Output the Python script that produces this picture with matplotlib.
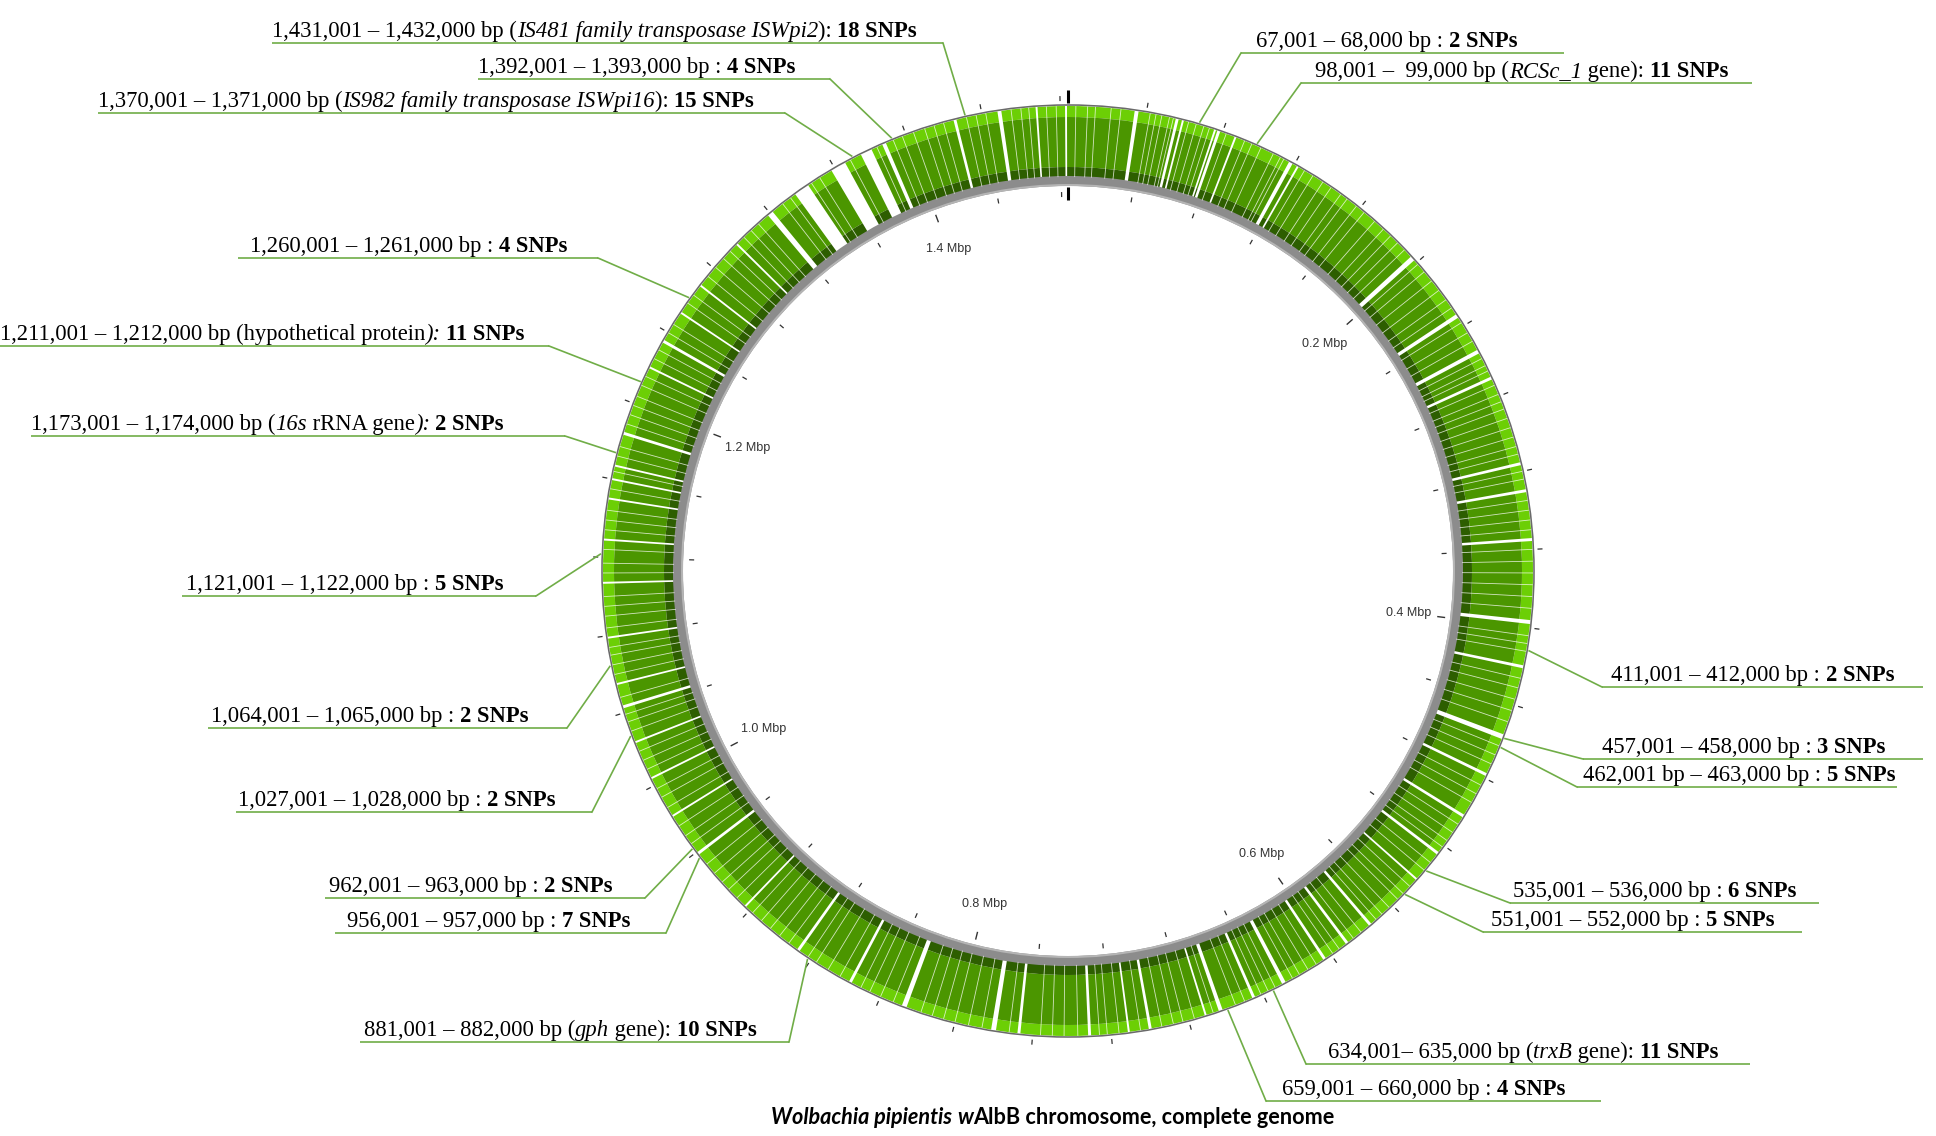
import numpy as np
import matplotlib
matplotlib.use("Agg")
import matplotlib.pyplot as plt
from matplotlib.patches import Wedge
from matplotlib.collections import LineCollection
from matplotlib.font_manager import FontProperties

W, H = 1936, 1136
GENOME_BP = 1484007

# annotated 1 kb windows
region_start = [1431001, 1392001, 1370001, 1260001, 1211001, 1173001, 1121001,
                1064001, 1027001, 962001, 956001, 881001,
                67001, 98001, 411001, 457001, 462001, 535001, 551001, 634001, 659001]
snp_counts = [18, 4, 15, 4, 11, 2, 5, 2, 2, 2, 7, 10,
              2, 11, 2, 3, 5, 6, 5, 11, 4]
label_text = [
    [("1,431,001 – 1,432,000 bp (", "n"), ("IS481 family transposase ISWpi2", "i"), ("): ", "n")],
    [("1,392,001 – 1,393,000 bp : ", "n")],
    [("1,370,001 – 1,371,000 bp (", "n"), ("IS982 family transposase ISWpi16", "i"), ("): ", "n")],
    [("1,260,001 – 1,261,000 bp : ", "n")],
    [("1,211,001 – 1,212,000 bp (hypothetical protein", "n"), ("): ", "i")],
    [("1,173,001 – 1,174,000 bp (", "n"), ("16s", "i"), (" rRNA gene", "n"), ("): ", "i")],
    [("1,121,001 – 1,122,000 bp : ", "n")],
    [("1,064,001 – 1,065,000 bp : ", "n")],
    [("1,027,001 – 1,028,000 bp : ", "n")],
    [("962,001 – 963,000 bp : ", "n")],
    [("956,001 – 957,000 bp : ", "n")],
    [("881,001 – 882,000 bp (", "n"), ("gph", "i"), (" gene): ", "n")],
    [("67,001 – 68,000 bp : ", "n")],
    [("98,001 –  99,000 bp (", "n"), ("RCSc_1", "i"), (" gene): ", "n")],
    [("411,001 – 412,000 bp : ", "n")],
    [("457,001 – 458,000 bp : ", "n")],
    [("462,001 bp – 463,000 bp : ", "n")],
    [("535,001 – 536,000 bp : ", "n")],
    [("551,001 – 552,000 bp : ", "n")],
    [("634,001– 635,000 bp (", "n"), ("trxB", "i"), (" gene): ", "n")],
    [("659,001 – 660,000 bp : ", "n")],
]

# wide white gaps between features (kbp centre, kbp width)
gap_kbp = [35, 56, 59, 76, 78, 87, 118, 122, 197, 234, 255, 270, 316, 330, 355,
           397, 420, 457, 478, 502, 525, 542, 575, 590, 604, 628, 645, 663, 671,
           700, 711, 731, 767, 780, 827, 857, 888, 923, 959, 982, 1004, 1024,
           1043, 1055, 1079, 1107, 1129, 1150, 1160, 1167, 1184, 1220, 1235,
           1252, 1269, 1297, 1320, 1340, 1362, 1378, 1388, 1426, 1449, 1468, 1483]
gap_width = [2.0, 1.5, 1.0, 1.0, 1.5, 1.0, 2.0, 1.0, 2.5, 2.0, 2.0, 1.5, 1.5, 1.5, 1.5,
             2.0, 1.5, 2.5, 1.5, 1.5, 1.5, 1.0, 1.5, 1.5, 1.5, 2.0, 1.5, 2.0, 1.0,
             1.5, 1.0, 1.5, 1.5, 2.5, 2.5, 1.5, 1.5, 1.0, 1.5, 1.0, 1.0, 1.0,
             1.5, 1.0, 1.0, 1.0, 1.0, 1.0, 1.0, 1.0, 1.5, 1.0, 1.5,
             1.0, 1.0, 1.0, 3.0, 8.0, 8.0, 6.0, 2.0, 1.5, 2.0, 1.0, 1.0]
# thin white lines
thin_kbp = [4, 10, 14, 22, 27, 42, 45, 48, 52, 54, 62, 66, 70, 73, 82, 92, 96, 101, 108, 112, 114,
            126, 131, 137, 142, 148, 152, 158, 163, 170, 176, 181, 186, 191, 201, 206, 212, 218, 224, 229, 238,
            244, 249, 259, 263, 266, 274, 279, 283, 287, 292, 297, 302, 307, 311, 320, 324, 335, 340, 345,
            350, 360, 366, 372, 378, 384, 390,
            404, 408, 412, 426, 431, 437, 443, 449, 462, 467, 472, 484, 489, 494, 507, 512, 517, 521,
            531, 536, 547, 552, 556,
            562, 567, 571, 581, 586, 595, 599, 609, 614, 619, 623, 633, 637, 641, 650, 655, 667, 677,
            683, 688, 694, 705, 716, 722, 726, 737, 744, 750, 756,
            772, 786, 793, 800, 806, 812, 818, 833, 840, 846, 851, 863, 870, 877, 882, 894,
            900, 906, 912, 918, 929, 935, 940, 946, 952, 965, 970, 976, 987, 993, 998, 1009, 1014,
            1019, 1030, 1035, 1039, 1048, 1060, 1065, 1070, 1074, 1084, 1090, 1095, 1100, 1112, 1117,
            1124, 1134, 1139, 1144, 1155, 1164, 1172, 1177, 1189, 1194, 1199, 1204, 1210, 1215, 1225,
            1230, 1240, 1245, 1258, 1263, 1275, 1281, 1287, 1292, 1302, 1307, 1312,
            1328, 1333, 1346, 1351, 1369, 1384, 1393, 1398, 1404, 1410, 1415, 1420, 1432, 1437,
            1442, 1455, 1460, 1464, 1473, 1478]

tick_step_kbp = 40
tick_labels = ["0.2 Mbp", "0.4 Mbp", "0.6 Mbp", "0.8 Mbp", "1.0 Mbp", "1.2 Mbp", "1.4 Mbp"]
tick_label_kbp = [200, 400, 600, 800, 1000, 1200, 1400]

# label layout (image pixels)
side = ["L"] * 12 + ["R"] * 9
text_x = [272, 478, 98, 250, 0, 31, 186, 211, 238, 329, 347, 364,
          1256, 1315, 1611, 1602, 1583, 1513, 1491, 1328, 1282]
under_y = [43, 79, 113, 258, 346, 436, 596, 728, 812, 898, 933, 1042,
           53, 83, 687, 759, 787, 903, 932, 1064, 1101]
under_x0 = [272, 478, 98, 238, 0, 31, 182, 208, 236, 325, 335, 360,
            1241, 1301, 1602, 1583, 1577, 1510, 1483, 1306, 1266]
under_x1 = [943, 830, 785, 598, 549, 565, 536, 567, 592, 645, 666, 789,
            1564, 1752, 1923, 1923, 1897, 1819, 1802, 1750, 1601]

CX, CY = 1068, H - 571
R_OUT = 466
LINE_GREEN = "#70ad47"


def ang(bp):
    return np.deg2rad(90 - bp / GENOME_BP * 360)


def polar(bp, r):
    a = ang(bp)
    return CX + r * np.cos(a), CY + r * np.sin(a)


fig = plt.figure(figsize=(W / 100, H / 100), dpi=100)
ax = fig.add_axes([0, 0, 1, 1])
ax.set_xlim(0, W)
ax.set_ylim(0, H)
ax.axis("off")
renderer = fig.canvas.get_renderer()

# feature bands
bands = [(465, 454, "#6ccf05"), (454, 404, "#4b9600"), (404, 394, "#2d5e00")]
for r1, r0, col in bands:
    ax.add_patch(Wedge((CX, CY), r1, 0, 360, width=r1 - r0, facecolor=col, edgecolor="none"))

for c, w in zip(gap_kbp, gap_width):
    t1 = 90 - (c + w / 2) * 1000 / GENOME_BP * 360
    t2 = 90 - (c - w / 2) * 1000 / GENOME_BP * 360
    ax.add_patch(Wedge((CX, CY), 466, t1, t2, width=72, facecolor="white", edgecolor="none"))

segs = [[polar(k * 1000, 394), polar(k * 1000, 465)] for k in thin_kbp]
ax.add_collection(LineCollection(segs, colors="white", linewidths=0.6, alpha=0.75))

# outer circle and grey backbone
ax.add_patch(Wedge((CX, CY), R_OUT + 0.8, 0, 360, width=1.6, facecolor="#6a6a6a", edgecolor="none"))
ax.add_patch(Wedge((CX, CY), 395, 0, 360, width=10, facecolor="#8c8c8c", edgecolor="none"))
ax.add_patch(Wedge((CX, CY), 387, 0, 360, width=2, facecolor="#b5b5b5", edgecolor="none"))

# ticks
tick_segs, major_segs = [], []
for k in range(tick_step_kbp, 1484, tick_step_kbp):
    bp = k * 1000
    tick_segs.append([polar(bp, 470), polar(bp, 475)])
    if k % 200 == 0:
        major_segs.append([polar(bp, 372), polar(bp, 380)])
    else:
        tick_segs.append([polar(bp, 374), polar(bp, 379)])
ax.add_collection(LineCollection(tick_segs, colors="#333333", linewidths=0.9))
ax.add_collection(LineCollection(major_segs, colors="#333333", linewidths=1.0))
ax.add_collection(LineCollection([[polar(0, 468), polar(0, 481)], [polar(0, 371), polar(0, 384)]],
                                 colors="black", linewidths=2.2))
for lab, k in zip(tick_labels, tick_label_kbp):
    x, y = polar(k * 1000, 343)
    ax.text(x, y, lab, ha="center", va="center", fontsize=9, family="Liberation Sans", color="#333333")


def text_width(s, prop):
    w1, _, _ = renderer.get_text_width_height_descent("|" + s + "|", prop, ismath=False)
    w0, _, _ = renderer.get_text_width_height_descent("||", prop, ismath=False)
    return w1 - w0


STYLES = {"n": ("normal", "normal"), "i": ("italic", "normal"),
          "b": ("normal", "bold"), "bi": ("italic", "bold")}


def draw_rich(x, y, parts, size, family, color="black"):
    for s, st in parts:
        style, weight = STYLES[st]
        prop = FontProperties(family=family, style=style, weight=weight, size=size)
        ax.text(x, y, s, fontproperties=prop, ha="left", va="baseline", color=color)
        x += text_width(s, prop)


# annotation labels with leader lines
for i in range(len(region_start)):
    uy = H - under_y[i]
    mid = region_start[i] + 500
    px, py = polar(mid, 468)
    jx = under_x1[i] if side[i] == "L" else under_x0[i]
    ax.plot([under_x0[i], under_x1[i]], [uy, uy], color=LINE_GREEN, lw=1.2, solid_capstyle="butt")
    ax.plot([jx, px], [uy, py], color=LINE_GREEN, lw=1.2)
    parts = label_text[i] + [(f"{snp_counts[i]} SNPs", "b")]
    draw_rich(text_x[i], uy + 6, parts, 16.3, "Liberation Serif")

# title
title_parts = [("Wolbachia pipientis", "bi"), (" ", "b"), ("w", "bi"),
               ("AlbB chromosome, complete genome", "b")]
tw = 0
for s, st in title_parts:
    style, weight = STYLES[st]
    tw += text_width(s, FontProperties(family="Lato", style=style, weight=weight, size=15))
tsize = 15 * 565 / tw
tw = 0
for s, st in title_parts:
    style, weight = STYLES[st]
    tw += text_width(s, FontProperties(family="Lato", style=style, weight=weight, size=tsize))
draw_rich(1053 - tw / 2, H - 1124, title_parts, tsize, "Lato")

fig.savefig("out.png", dpi=100)
